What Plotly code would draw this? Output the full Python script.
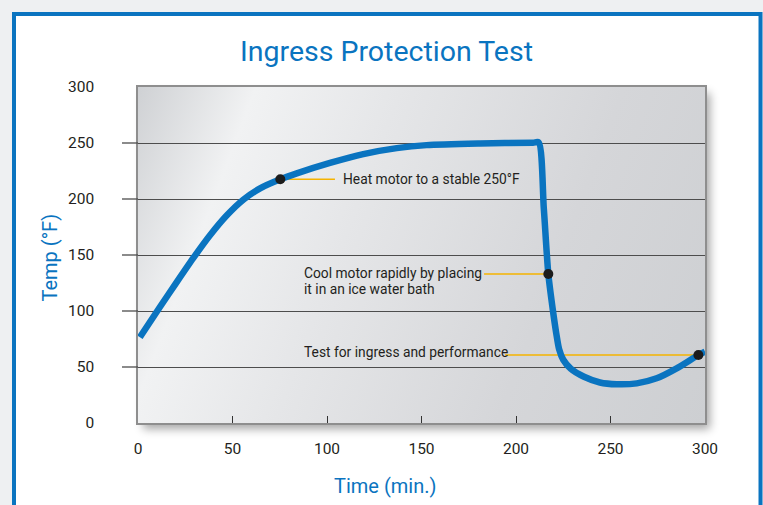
import base64
import plotly.graph_objects as go

# ---------------- data ----------------
time_min = [1, 11.6, 20.5, 29.3, 38.1, 46.9, 55.7, 64.6, 75.3, 84, 101.6, 119.2, 136.9, 152.7, 181, 209,
            212, 214.7, 217.1, 219.4, 221.3, 222.8, 225, 229, 236, 244.4, 253.3, 263.9, 274.4, 285, 296.5, 300]
temp_f = [76.5, 103.5, 125.8, 147.4, 167.6, 185.2, 199.3, 209.5, 217.6, 222.9, 232.2, 240.1, 245.4, 248.1, 249.6,
          250.3, 250.5, 192, 133, 102, 80, 66, 56.5, 48.5, 41.3, 36.2, 34.6, 35.4, 39.9, 48.8, 60.7, 63.7]

marker_x = [75.3, 217.1, 296.5]
marker_y = [217.6, 133, 60.7]

note_lines = [["Heat motor to a stable 250°F"],
              ["Cool motor rapidly by placing", "it in an ice water bath"],
              ["Test for ingress and performance"]]

x_ticks = [0, 50, 100, 150, 200, 250, 300]
y_ticks = [0, 50, 100, 150, 200, 250, 300]

title_text = "Ingress Protection Test"
x_title = "Time (min.)"
y_title = "Temp (°F)"

# ---------------- layout constants ----------------
W, H = 763, 505
ML, MR, MT, MB = 138, 58, 87, 82
PW, PH = W - ML - MR, H - MT - MB
BLUE = "#0a74c0"
ORANGE = "#f5b301"
TXT = "#231f20"
FONT = "Roboto, Liberation Sans, sans-serif"


def px_to_paper_x(px):
    return (px - ML) / PW


def px_to_paper_y(py):
    return (H - MB - py) / PH


# background decoration (page, framed panel, shaded plot box with shadow)
svg = f'''<svg xmlns="http://www.w3.org/2000/svg" width="{W}" height="{H}" viewBox="0 0 {W} {H}" preserveAspectRatio="none">
<defs>
<linearGradient id="g" gradientUnits="userSpaceOnUse" x1="{ML}" y1="{MT}" x2="{ML+607}" y2="{MT+230}">
<stop offset="0" stop-color="#cfd1d4"/>
<stop offset="0.17" stop-color="#f1f2f3"/>
<stop offset="0.38" stop-color="#e5e6e8"/>
<stop offset="0.7" stop-color="#d5d6d9"/>
<stop offset="1" stop-color="#cdcfd2"/>
</linearGradient>
<filter id="s" x="-10%" y="-10%" width="130%" height="130%"><feGaussianBlur stdDeviation="5"/></filter>
</defs>
<rect width="{W}" height="{H}" fill="#eef0f2"/>
<rect x="14" y="14" width="746.5" height="530" fill="#ffffff" stroke="{BLUE}" stroke-width="4"/>
<rect x="{ML+5}" y="{MT+6}" width="{PW}" height="{PH}" fill="#000" opacity="0.35" filter="url(#s)"/>
<rect x="{ML}" y="{MT}" width="{PW}" height="{PH}" fill="url(#g)"/>
</svg>'''
svg_uri = "data:image/svg+xml;base64," + base64.b64encode(svg.encode()).decode()

fig = go.Figure()

fig.add_trace(go.Scatter(x=time_min, y=temp_f, mode="lines",
                         line=dict(color=BLUE, width=6.5, shape="spline", smoothing=0.7),
                         hoverinfo="skip", showlegend=False))
fig.add_trace(go.Scatter(x=marker_x, y=marker_y, mode="markers",
                         marker=dict(color="#1c1c1c", size=10), hoverinfo="skip", showlegend=False))

shapes = []
# gridline extensions to the left of the box
for v in y_ticks[1:-1]:
    shapes.append(dict(type="line", xref="paper", yref="y", x0=px_to_paper_x(122), x1=0, y0=v, y1=v,
                       line=dict(color="#4d4d4d", width=1.3), layer="above"))

# leader lines (text end x in data units)
leader_start = [104.2, 183.1, 194.2]
for lx, mx, my in zip(leader_start, marker_x, marker_y):
    shapes.append(dict(type="line", xref="x", yref="y", x0=lx, x1=mx, y0=my, y1=my,
                       line=dict(color=ORANGE, width=1.5), layer="below"))

annotations = []
note_pos = [(107.4, [218.0]), (86.8, [134.2, 119.6]), (86.8, [63.4])]
for lines, (nx, ys) in zip(note_lines, note_pos):
    for t, yy in zip(lines, ys):
        annotations.append(dict(text=t, x=nx, y=yy, xref="x", yref="y", xanchor="left", yanchor="middle",
                                showarrow=False, font=dict(family=FONT, size=13.8, color=TXT)))

annotations.append(dict(text=title_text, x=px_to_paper_x(386.5), y=px_to_paper_y(52), xref="paper", yref="paper",
                        xanchor="center", yanchor="middle", showarrow=False,
                        font=dict(family=FONT, size=28.5, color=BLUE)))
annotations.append(dict(text=x_title, x=px_to_paper_x(385), y=px_to_paper_y(486), xref="paper", yref="paper",
                        xanchor="center", yanchor="middle", showarrow=False,
                        font=dict(family=FONT, size=20, color=BLUE)))
annotations.append(dict(text=y_title, x=px_to_paper_x(49), y=px_to_paper_y(257.5), xref="paper", yref="paper",
                        xanchor="center", yanchor="middle", showarrow=False, textangle=-90,
                        font=dict(family=FONT, size=20, color=BLUE)))

fig.update_layout(
    width=W, height=H,
    margin=dict(l=ML, r=MR, t=MT, b=MB, pad=0),
    paper_bgcolor="#ffffff",
    plot_bgcolor="rgba(0,0,0,0)",
    images=[dict(source=svg_uri, xref="paper", yref="paper", x=-ML / PW, y=(H - MB) / PH,
                 sizex=W / PW, sizey=H / PH, xanchor="left", yanchor="top", sizing="stretch", layer="below")],
    shapes=shapes,
    annotations=annotations,
    showlegend=False,
    xaxis=dict(range=[0, 300], tickvals=x_ticks, ticks="inside", ticklen=7, tickwidth=1.3, tickcolor="#333333",
               showgrid=False, zeroline=False, showline=True, mirror=True, linecolor="#8e8e8e", linewidth=1.5,
               tickfont=dict(family=FONT, size=15.5, color=TXT), ticklabelstandoff=11, fixedrange=True),
    yaxis=dict(range=[0, 300], tickvals=y_ticks, ticks="", showgrid=True, gridcolor="#4d4d4d", gridwidth=1.3,
               zeroline=False, showline=True, mirror=True, linecolor="#8e8e8e", linewidth=1.5,
               tickfont=dict(family=FONT, size=15.5, color=TXT), ticklabelstandoff=39, fixedrange=True),
)

fig.write_html("out.html", config={"displayModeBar": False},
               post_script="document.body.style.margin='0';")
